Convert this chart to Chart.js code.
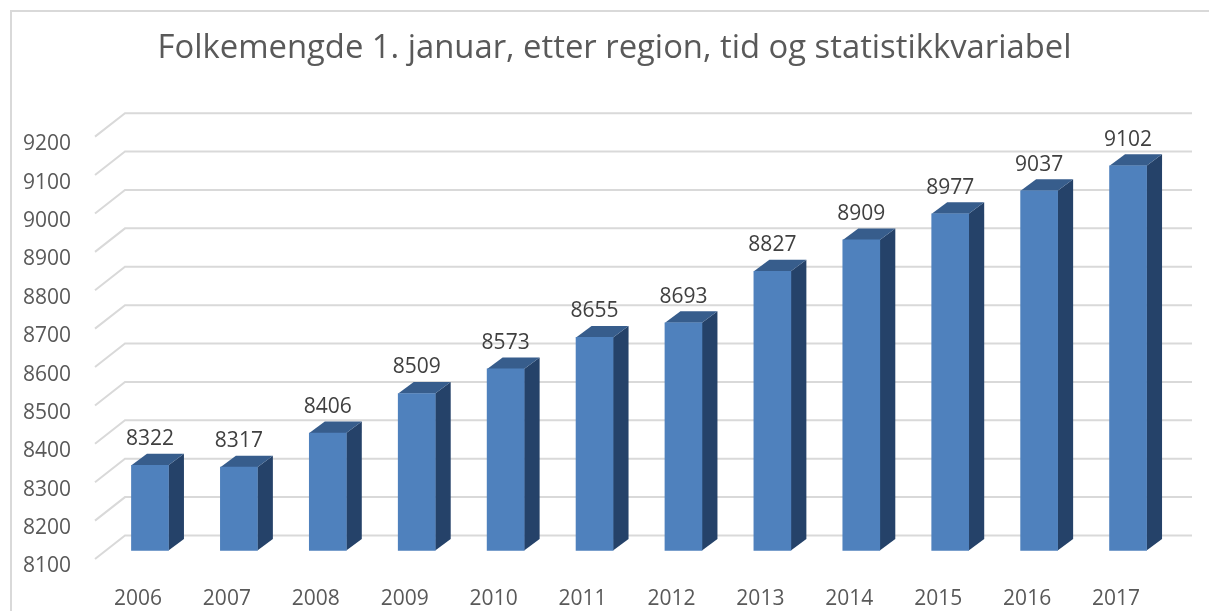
<!DOCTYPE html>
<html>
<head>
<meta charset="utf-8">
<title>Folkemengde</title>
<script src="https://cdn.jsdelivr.net/npm/chart.js@4"></script>
<style>
  html, body { margin: 0; padding: 0; background: #fff; overflow: hidden; }
  #wrap { position: relative; width: 1209px; height: 611px; }
  #frame { position: absolute; left: 10px; top: 10px; right: 0; bottom: 0; border-left: 2px solid #d9d9d9; border-top: 2px solid #d9d9d9; }
  canvas { position: absolute; left: 0; top: 0; }
</style>
</head>
<body>
<div id="wrap">
  <div id="frame"></div>
  <canvas id="chart" width="1209" height="611"></canvas>
</div>
<script>
const chartTitle = 'Folkemengde 1. januar, etter region, tid og statistikkvariabel';
const years = ['2006', '2007', '2008', '2009', '2010', '2011', '2012', '2013', '2014', '2015', '2016', '2017'];
const population = [8322, 8317, 8406, 8509, 8573, 8655, 8693, 8827, 8909, 8977, 9037, 9102];
const axisMin = 8100;
const axisMax = 9200;
const axisStep = 100;

const FONT = '"Open Sans", sans-serif';
// the axes are the front plane of the box, bars and back wall sit behind it
const barShift = { x: 12, y: -16 };
const barDepth = { x: 15.5, y: -11.5 };
const wallDepth = { x: 30, y: -23.5 };

const box3d = {
  id: 'box3d',
  beforeDatasetsDraw(chart) {
    const { ctx, chartArea } = chart;
    const yScale = chart.scales.y;

    // walls
    ctx.save();
    ctx.strokeStyle = '#d9d9d9';
    ctx.lineWidth = 2;
    yScale.ticks.forEach((tick, i) => {
      const py = yScale.getPixelForTick(i) - 7.5;
      ctx.beginPath();
      ctx.moveTo(chartArea.left + 1.5, py);
      ctx.lineTo(chartArea.left + 1.5 + wallDepth.x, py + wallDepth.y);
      ctx.lineTo(chartArea.right + 31.5, py + wallDepth.y);
      ctx.stroke();
    });
    ctx.restore();

    // bars are pushed back, side and top faces go first
    ctx.save();
    ctx.translate(barShift.x, barShift.y);
    chart.getDatasetMeta(0).data.forEach((bar) => {
      const right = bar.x + bar.width / 2;
      const left = bar.x - bar.width / 2;
      ctx.fillStyle = '#254269';
      ctx.beginPath();
      ctx.moveTo(right, bar.y);
      ctx.lineTo(right + barDepth.x, bar.y + barDepth.y);
      ctx.lineTo(right + barDepth.x, bar.base + barDepth.y);
      ctx.lineTo(right, bar.base);
      ctx.closePath();
      ctx.fill();
      ctx.fillStyle = '#375d8c';
      ctx.beginPath();
      ctx.moveTo(left, bar.y);
      ctx.lineTo(left + barDepth.x, bar.y + barDepth.y);
      ctx.lineTo(right + barDepth.x, bar.y + barDepth.y);
      ctx.lineTo(right, bar.y);
      ctx.closePath();
      ctx.fill();
    });
  },
  afterDatasetsDraw(chart) {
    const { ctx } = chart;
    ctx.restore();

    // value labels
    ctx.save();
    ctx.font = '21px ' + FONT;
    ctx.fillStyle = '#404040';
    ctx.textAlign = 'center';
    ctx.textBaseline = 'middle';
    chart.getDatasetMeta(0).data.forEach((bar, i) => {
      ctx.fillText(population[i], bar.x + barShift.x, bar.y + barShift.y - 26);
    });
    ctx.restore();
  }
};

new Chart(document.getElementById('chart'), {
  type: 'bar',
  data: {
    labels: years,
    datasets: [{
      data: population,
      base: axisMin,
      backgroundColor: '#4f81bd',
      barThickness: 37,
      clip: false
    }]
  },
  options: {
    responsive: false,
    animation: false,
    layout: { padding: { left: 20, right: 0, top: 0, bottom: 0 } },
    plugins: {
      legend: { display: false },
      tooltip: { enabled: false },
      title: {
        display: true,
        text: chartTitle,
        color: '#595959',
        font: { family: FONT, size: 32.8, weight: 'normal' },
        padding: { top: 29, bottom: 75.8 }
      }
    },
    scales: {
      x: {
        grid: { display: false },
        border: { display: false },
        ticks: { color: '#595959', font: { family: FONT, size: 21 }, padding: 12, maxRotation: 0, autoSkip: false },
        afterFit(scale) { scale.height = 44.5; }
      },
      y: {
        min: axisMin,
        max: axisMax,
        grid: { display: false },
        border: { display: false },
        ticks: {
          stepSize: axisStep,
          color: '#595959',
          font: { family: FONT, size: 21 },
          padding: 14.5,
          autoSkip: false,
          callback: (value) => String(value)
        },
        afterFit(scale) { scale.width = 73.5; }
      },
      // empty axis, keeps room on the right for the depth of the box
      depth: {
        position: 'right',
        grid: { display: false },
        border: { display: false },
        ticks: { display: false },
        afterFit(scale) { scale.width = 48.5; }
      }
    }
  },
  plugins: [box3d]
});
</script>
</body>
</html>
